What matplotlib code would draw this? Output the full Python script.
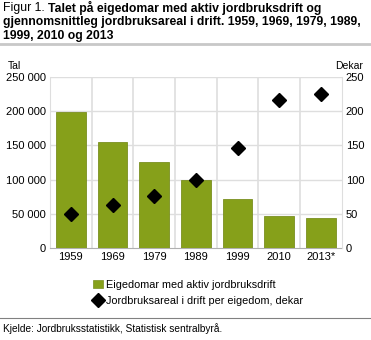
import numpy as np
import matplotlib.pyplot as plt
from matplotlib.lines import Line2D
from matplotlib.patches import Patch

years = ['1959', '1969', '1979', '1989', '1999', '2010', '2013*']
eigedomar = [199000, 155000, 125500, 99500, 71000, 46500, 43000]
dekar = [50, 62, 76, 100, 147, 216, 226]

left_ticks = [0, 50000, 100000, 150000, 200000, 250000]
left_labels = ['0', '50 000', '100 000', '150 000', '200 000', '250 000']
right_ticks = [0, 50, 100, 150, 200, 250]

green = '#86a01a'
grid = '#dedede'

plt.rcParams['font.family'] = ['Liberation Sans', 'DejaVu Sans']
W, H = 371, 340
fig = plt.figure(figsize=(W/100, H/100), dpi=100)
ax = fig.add_axes([50/W, 1-247.7/H, 291.7/W, 170.4/H])
ax2 = ax.twinx()

x = np.arange(len(years))
ax.bar(x, eigedomar, width=0.71, color=green, edgecolor='#7a8f20', linewidth=0.6, zorder=3)
ax.set_xlim(-0.5, len(years)-0.5)
ax.set_ylim(0, 250000)
ax.set_yticks(left_ticks)
ax.set_yticklabels(left_labels)
ax.set_xticks(x)
ax.set_xticklabels(years)
for v in left_ticks[1:]:
    ax.axhline(v, color=grid, lw=1, zorder=1)
for b in np.arange(0.5, len(years)-0.5, 1):
    ax.axvline(b, color=grid, lw=1.2, zorder=1)

ax2.plot(x, dekar, 'D', color='black', markersize=7, zorder=5)
ax2.set_ylim(0, 250)
ax2.set_yticks(right_ticks)

for a in (ax, ax2):
    for s in a.spines.values():
        s.set_visible(False)
    a.tick_params(length=0, labelsize=8, pad=3)
ax.spines['bottom'].set_visible(True)
ax.spines['bottom'].set_color('#b0b0b0')
ax.spines['left'].set_visible(True)
ax.spines['left'].set_color(grid)
ax2.spines['right'].set_visible(True)
ax2.spines['right'].set_color(grid)
ax.set_zorder(1)
ax2.set_zorder(2)
ax.patch.set_visible(False)

fig.text(8/W, 1-66/H, 'Tal', fontsize=7.5, va='center')
fig.text(363/W, 1-66/H, 'Dekar', fontsize=7.5, va='center', ha='right')

# title
ts = 8.8
t1 = fig.text(3/W, 1-8/H, 'Figur 1.', fontsize=ts, va='center')
r = fig.canvas.get_renderer()
bb = t1.get_window_extent(r)
fig.text((bb.x1 + 3)/W, 1-8/H, 'Talet på eigedomar med aktiv jordbruksdrift og', fontsize=ts, va='center', fontweight='bold')
fig.text(3/W, 1-22/H, 'gjennomsnittleg jordbruksareal i drift. 1959, 1969, 1979, 1989,', fontsize=ts, va='center', fontweight='bold')
fig.text(3/W, 1-36/H, '1999, 2010 og 2013', fontsize=ts, va='center', fontweight='bold')
fig.add_artist(Line2D([0, 1], [1-44/H, 1-44/H], color='#c8c8c8', lw=2))

handles = [Patch(facecolor=green, edgecolor='#7a8f20', linewidth=0.5),
           Line2D([], [], marker='D', color='black', linestyle='None', markersize=7)]
fig.legend(handles, ['Eigedomar med aktiv jordbruksdrift', 'Jordbruksareal i drift per eigedom, dekar'],
           loc='center', bbox_to_anchor=(198/W, 1-293/H), frameon=False, fontsize=7.8,
           handlelength=0.9, handletextpad=0.3, labelspacing=0.6, borderpad=0)

fig.add_artist(Line2D([0, 1], [1-318/H, 1-318/H], color='#808080', lw=0.8))
fig.text(3/W, 1-329/H, 'Kjelde: Jordbruksstatistikk, Statistisk sentralbyrå.', fontsize=7.3, va='center')

fig.savefig('out.png', dpi=100)
